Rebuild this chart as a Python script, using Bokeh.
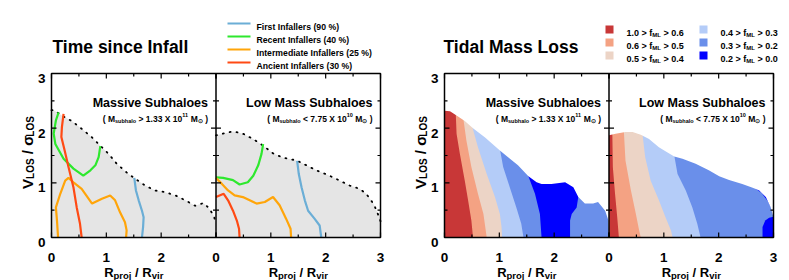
import numpy as np
from bokeh.plotting import figure
from bokeh.models import Range1d, ColumnDataSource
from bokeh.core.properties import value, field
from bokeh.embed import file_html
from bokeh.resources import INLINE

# ---------------- data ----------------
x_major = [0, 1, 2, 3]
x_minor = [0.5, 1.5, 2.5]
y_major = [0, 1, 2, 3]
y_minor = [0.5, 1.5, 2.5]
tick_labels = ["0", "1", "2", "3"]

panel_titles = ["Massive Subhaloes", "Low Mass Subhaloes"]
panel_cut_sign = [">", "<"]
panel_cut_mant = ["1.33", "7.75"]
panel_cut_exp = ["11", "10"]

infall_labels = ["First Infallers (90 %)", "Recent Infallers (40 %)",
                 "Intermediate Infallers (25 %)", "Ancient Infallers (30 %)"]
infall_colors = ["#6baed6", "#2ee82e", "#ffa50a", "#ff4a14"]

# --- Time since infall: populated-region envelope (dotted) ---
env_massive_x = [0.0, 0.04, 0.19, 0.37, 0.55, 0.74, 0.89, 1.04, 1.19, 1.37, 1.53, 1.71,
                 1.89, 2.07, 2.26, 2.44, 2.62, 2.77, 2.86, 2.96, 3.0]
env_massive_y = [2.33, 2.33, 2.23, 2.13, 1.99, 1.83, 1.68, 1.53, 1.35, 1.19, 1.07, 0.95,
                 0.86, 0.83, 0.77, 0.68, 0.58, 0.63, 0.55, 0.40, 0.25]
env_low_x = [0.0, 0.13, 0.31, 0.49, 0.68, 0.86, 1.04, 1.22, 1.47, 1.65, 1.83, 2.07,
             2.26, 2.44, 2.62, 2.74, 2.87, 2.93, 3.0]
env_low_y = [1.87, 1.90, 1.94, 1.90, 1.80, 1.68, 1.54, 1.46, 1.41, 1.32, 1.23, 1.13,
             1.04, 0.95, 0.89, 0.80, 0.62, 0.49, 0.30]

# --- contours, massive subhaloes ---
first_m_x = [1.51, 1.54, 1.59, 1.65, 1.68, 1.67, 1.65]
first_m_y = [1.09, 0.86, 0.68, 0.49, 0.37, 0.19, 0.0]
recent_m_x = [0.13, 0.08, 0.04, 0.07, 0.22, 0.40, 0.58, 0.71, 0.80, 0.86, 0.89]
recent_m_y = [2.29, 2.14, 1.90, 1.71, 1.44, 1.26, 1.13, 1.23, 1.32, 1.47, 1.67]
inter_m_x = [0.12, 0.10, 0.08, 0.16, 0.25, 0.31, 0.40, 0.55, 0.74, 0.92, 1.07, 1.16,
             1.25, 1.34, 1.37, 1.36]
inter_m_y = [0.0, 0.31, 0.55, 0.80, 1.04, 1.09, 1.01, 0.89, 0.62, 0.71, 0.77, 0.68,
             0.46, 0.28, 0.13, 0.0]
ancient_m_x = [0.22, 0.19, 0.18, 0.24, 0.31, 0.40, 0.46, 0.52, 0.55]
ancient_m_y = [2.26, 2.02, 1.84, 1.59, 1.29, 0.92, 0.55, 0.25, 0.0]

# --- contours, low mass subhaloes ---
first_l_x = [1.48, 1.51, 1.56, 1.62, 1.68, 1.80, 1.89, 1.92]
first_l_y = [1.40, 1.16, 0.92, 0.68, 0.49, 0.34, 0.22, 0.0]
recent_l_x = [0.0, 0.13, 0.31, 0.43, 0.58, 0.68, 0.77, 0.83, 0.86]
recent_l_y = [1.10, 1.09, 1.05, 0.97, 1.01, 1.13, 1.32, 1.53, 1.71]
inter_l_x = [0.0, 0.10, 0.22, 0.34, 0.49, 0.74, 0.89, 1.04, 1.16, 1.28, 1.36, 1.37]
inter_l_y = [1.09, 0.99, 0.86, 0.77, 0.74, 0.62, 0.65, 0.74, 0.59, 0.34, 0.16, 0.0]
ancient_l_x = [0.0, 0.14, 0.22, 0.31, 0.38, 0.42, 0.43]
ancient_l_y = [0.74, 0.80, 0.68, 0.49, 0.31, 0.16, 0.0]

# --- Tidal mass loss ---
fml_hi = ["1.0", "0.6", "0.5", "0.4", "0.3", "0.2"]
fml_lo = ["0.6", "0.5", "0.4", "0.3", "0.2", "0.0"]
fml_colors = ["#c83737", "#f4a283", "#ecd4c6", "#b4ccf8", "#6a8fea", "#0000ff"]

top_m_x = [0.0, 0.10, 0.22, 0.37, 0.52, 0.74, 1.01, 1.16, 1.34, 1.53, 1.68, 1.77, 1.95,
           2.20, 2.35, 2.44, 2.56, 2.71, 2.80, 2.93, 2.99, 3.0]
top_m_y = [2.32, 2.31, 2.23, 2.13, 2.00, 1.83, 1.59, 1.47, 1.32, 1.12, 1.01, 0.98, 0.98,
           1.01, 0.92, 0.74, 0.62, 0.62, 0.65, 0.49, 0.31, 0.0]
top_l_x = [0.0, 0.12, 0.30, 0.43, 0.58, 0.73, 0.91, 1.06, 1.19, 1.34, 1.58, 1.82, 2.01,
           2.19, 2.43, 2.62, 2.74, 2.86, 2.95, 3.0]
top_l_y = [1.87, 1.90, 1.93, 1.93, 1.88, 1.80, 1.65, 1.56, 1.48, 1.44, 1.35, 1.23, 1.12,
           1.05, 0.98, 0.91, 0.86, 0.74, 0.55, 0.37]

# band boundaries (bottom -> top), massive
bnd_m = [
    ([0.52, 0.49, 0.43, 0.37, 0.28, 0.22, 0.20], [0.0, 0.31, 0.68, 1.04, 1.53, 1.90, 2.40]),
    ([0.77, 0.71, 0.61, 0.49, 0.40, 0.34], [0.0, 0.43, 0.80, 1.29, 1.77, 2.20]),
    ([1.05, 1.04, 1.01, 0.92, 0.77, 0.61, 0.50], [0.0, 0.19, 0.43, 0.74, 1.16, 1.65, 2.05]),
    ([1.44, 1.40, 1.31, 1.19, 1.07, 1.01], [0.0, 0.25, 0.55, 0.92, 1.29, 1.62]),
]
island_m = [
    ([1.77, 1.74, 1.65, 1.53, 1.53, 2.44, 2.44, 2.41, 2.32, 2.29, 2.29],
     [0.0, 0.43, 0.80, 1.12, 1.60, 1.60, 0.74, 0.55, 0.43, 0.31, 0.0]),
]
# band boundaries (bottom -> top), low mass
bnd_l = [
    ([0.18, 0.15, 0.11, 0.07, 0.06], [0.0, 0.37, 0.80, 1.29, 1.95]),
    ([0.58, 0.55, 0.49, 0.40, 0.30, 0.27], [0.0, 0.13, 0.43, 0.86, 1.41, 1.96]),
    ([1.16, 1.13, 1.03, 0.91, 0.76, 0.66, 0.61], [0.0, 0.13, 0.37, 0.68, 1.04, 1.47, 1.90]),
    ([1.67, 1.61, 1.52, 1.40, 1.25, 1.19], [0.0, 0.25, 0.55, 0.86, 1.16, 1.50]),
]
island_l = [
    ([2.80, 2.80, 2.85, 2.92, 3.0, 3.0], [0.0, 0.19, 0.31, 0.36, 0.38, 0.0]),
    ([2.62, 2.78, 2.90, 2.95, 2.95, 2.62], [0.93, 0.82, 0.66, 0.56, 1.20, 1.20]),
]

# ---------------- layout constants ----------------
FONT = "Liberation Sans"
PW, PH = 789, 280                 # page size (px)
SX = 164.5 / 3.0                  # px per unit in x
SY = 164.0 / 3.0                  # px per unit in y
FRAME_BOTTOM = 237                # page y of v = 0
CHART_LEFT = {"L": 51, "R": 444}  # page x of first panel's R = 0

W = {c: 556 for c in "0123456789"}
W.update({' ': 278, '(': 333, ')': 333, '>': 584, '<': 584, '.': 278, '/': 278, '%': 889,
          'σ': 615, '⊙': 838,
          'A': 722, 'B': 722, 'C': 722, 'D': 722, 'E': 667, 'F': 611, 'G': 778, 'H': 722,
          'I': 278, 'J': 556, 'K': 722, 'L': 611, 'M': 833, 'N': 722, 'O': 778, 'P': 667,
          'Q': 778, 'R': 722, 'S': 667, 'T': 611, 'U': 722, 'V': 667, 'W': 944, 'X': 667,
          'Y': 667, 'Z': 611, 'a': 556, 'b': 611, 'c': 556, 'd': 611, 'e': 556, 'f': 333,
          'g': 611, 'h': 611, 'i': 278, 'j': 278, 'k': 556, 'l': 278, 'm': 889, 'n': 611,
          'o': 611, 'p': 611, 'q': 611, 'r': 389, 's': 556, 't': 333, 'u': 611, 'v': 556,
          'w': 778, 'x': 556, 'y': 556, 'z': 500})


def tw(s, size):
    return sum(W.get(c, 556) for c in s) * size / 1000.0


TXT = dict(x=[], y=[], text=[], size=[], angle=[])


def rich(pieces, x0, y0, align="left", vertical=False):
    """Lay out bold text pieces (text, size, baseline shift) on the page."""
    total = sum(tw(t, s) for t, s, d in pieces)
    off = {"left": 0.0, "center": -total / 2.0, "right": -total}[align]
    for t, s, d in pieces:
        core = t.strip()
        lead = len(t) - len(t.lstrip())
        trail = len(t) - lead - len(core)
        off += tw(" " * lead, s)
        if vertical:
            px, py, ang = x0 + d, y0 - off, np.pi / 2
        else:
            px, py, ang = x0 + off, y0 + d, 0.0
        TXT["x"].append(px)
        TXT["y"].append(py)
        TXT["text"].append(core)
        TXT["size"].append(f"{s}px")
        TXT["angle"].append(ang)
        off += tw(core, s) + tw(" " * trail, s)


p = figure(width=PW, height=PH, x_range=Range1d(0, PW), y_range=Range1d(PH, 0),
           output_backend="svg", toolbar_location=None, tools="", title=None,
           x_axis_location=None, y_axis_location=None,
           min_border_left=0, min_border_right=0, min_border_top=0, min_border_bottom=0,
           outline_line_color=None)
p.grid.visible = False
p.background_fill_color = "white"
p.border_fill_color = "white"

xr = {}
for ch, left in CHART_LEFT.items():
    for k in range(2):
        P = left + k * 3 * SX
        xr[f"{ch}{k + 1}"] = Range1d(-P / SX, (PW - P) / SX)
p.extra_x_ranges = xr
p.extra_y_ranges = {"v": Range1d(-(PH - FRAME_BOTTOM) / SY, FRAME_BOTTOM / SY)}
V = dict(y_range_name="v")

# ---------------- left chart: time since infall ----------------
panels_infall = [
    ("L1", env_massive_x, env_massive_y,
     [(first_m_x, first_m_y), (recent_m_x, recent_m_y), (inter_m_x, inter_m_y),
      (ancient_m_x, ancient_m_y)]),
    ("L2", env_low_x, env_low_y,
     [(first_l_x, first_l_y), (recent_l_x, recent_l_y), (inter_l_x, inter_l_y),
      (ancient_l_x, ancient_l_y)]),
]
for rng, ex, ey, lines in panels_infall:
    p.patch([0.0] + ex + [3.0], [0.0] + ey + [0.0], fill_color="#e5e5e5",
            line_color=None, x_range_name=rng, **V)
    p.line(ex, ey, line_color="black", line_width=1.8, line_dash="1 6",
           line_cap="round", x_range_name=rng, **V)
    for (lx, ly), col in zip(lines, infall_colors):
        p.line(lx, ly, line_color=col, line_width=2.2, x_range_name=rng, **V)

# ---------------- right chart: tidal mass loss ----------------
panels_fml = [("R1", top_m_x, top_m_y, bnd_m, island_m),
              ("R2", top_l_x, top_l_y, bnd_l, island_l)]
for rng, tx, ty, bnds, isls in panels_fml:
    p.patch([0, 0, 3, 3], [0, 3, 3, 0], fill_color=fml_colors[0], line_color=None,
            x_range_name=rng, **V)
    for (bx, by), col in zip(bnds, fml_colors[1:5]):
        p.patch(bx + [bx[-1], 3, 3], by + [3, 3, 0], fill_color=col, line_color=None,
                x_range_name=rng, **V)
    for ix, iy in isls:
        p.patch(ix, iy, fill_color=fml_colors[5], line_color=None, x_range_name=rng, **V)
    # blank out everything above the populated region
    p.patch(tx + [3, 0], ty + [3, 3], fill_color="white", line_color=None,
            x_range_name=rng, **V)

# ---------------- frames, ticks, tick labels ----------------
MAJ, MIN = 5.0, 3.0
tick_style = dict(line_color="black", line_width=1.2)
for ch in ("L", "R"):
    r1, r2 = ch + "1", ch + "2"
    for rng in (r1, r2):
        xs = x_major + x_minor
        lx = [MAJ] * len(x_major) + [MIN] * len(x_minor)
        p.segment(x0=xs, x1=xs, y0=[0] * len(xs), y1=[l / SY for l in lx],
                  x_range_name=rng, **V, **tick_style)
        p.segment(x0=xs, x1=xs, y0=[3] * len(xs), y1=[3 - l / SY for l in lx],
                  x_range_name=rng, **V, **tick_style)
    ys = y_major + y_minor
    ly = [MAJ] * len(y_major) + [MIN] * len(y_minor)
    # left edge
    p.segment(x0=[0] * len(ys), x1=[l / SX for l in ly], y0=ys, y1=ys,
              x_range_name=r1, **V, **tick_style)
    # divider (ticks on both sides)
    p.segment(x0=[3 - l / SX for l in ly], x1=[3 + l / SX for l in ly], y0=ys, y1=ys,
              x_range_name=r1, **V, **tick_style)
    # right edge
    p.segment(x0=[3] * len(ys), x1=[3 - l / SX for l in ly], y0=ys, y1=ys,
              x_range_name=r2, **V, **tick_style)
    # frame and divider lines
    p.quad(left=[0], right=[6], bottom=[0], top=[3], fill_color=None, line_color="black",
           line_width=1.5, x_range_name=r1, **V)
    p.segment(x0=[3], x1=[3], y0=[0], y1=[3], line_color="black", line_width=1.5,
              x_range_name=r1, **V)
    # tick labels
    lab_style = dict(text_font=value(FONT), text_font_style="bold",
                     text_font_size=value("13.5px"), text_color="black",
                     text_baseline="alphabetic")
    p.text(x=x_major[:3], y=[0] * 3, text=tick_labels[:3], text_align="center",
           y_offset=20, x_range_name=r1, **V, **lab_style)
    p.text(x=x_major, y=[0] * 4, text=tick_labels, text_align="center",
           y_offset=20, x_range_name=r2, **V, **lab_style)
    p.text(x=[0] * 4, y=y_major, text=tick_labels, text_align="right",
           x_offset=-6, y_offset=5, x_range_name=r1, **V, **lab_style)

# ---------------- texts ----------------
for ch, left in CHART_LEFT.items():
    for k in range(2):
        right_px = left + (k + 1) * 3 * SX - 8
        rich([(panel_titles[k], 12.5, 0)], right_px, 102, align="right")
        rich([("( M", 8.5, 0), ("subhalo", 5.5, 2),
              (f" {panel_cut_sign[k]} {panel_cut_mant[k]} X 10", 8.5, 0),
              (panel_cut_exp[k], 5.5, -3.5), (" M", 8.5, 0), ("⊙", 6, 2),
              (" )", 8.5, 0)], right_px, 118, align="right")
        cx = left + (k + 0.5) * 3 * SX
        rich([("R", 13, 0), ("proj", 9.5, 2.5), (" / R", 13, 0), ("vir", 9.5, 2.5)],
             cx, 272, align="center")
    rich([("V", 15, 0), ("LOS", 10, 3), (" / σ", 15, 0), ("LOS", 10, 3)],
         left - 24, 152, align="center", vertical=True)

# titles
rich([("Time since Infall", 17.5, 0)], 52, 46)
rich([("Tidal Mass Loss", 17.5, 0)], 443, 46)

# legend: time since infall
leg_rows = [23, 36, 49, 62]
p.segment(x0=[227] * 4, x1=[250] * 4, y0=leg_rows, y1=leg_rows,
          line_color=infall_colors, line_width=2.2)
for lab, r in zip(infall_labels, leg_rows):
    rich([(lab, 8.7, 0)], 256, r + 3.2)

# legend: tidal mass loss
fml_rows = [29, 42, 55]
sq_x, sq_y = [], []
for i in range(6):
    col_i, row_i = divmod(i, 3)
    r = fml_rows[row_i]
    sq_x.append([609, 703][col_i])
    sq_y.append(r)
    rich([(f"{fml_hi[i]} > f", 9, 0), ("ML", 6, 2), (f" > {fml_lo[i]}", 9, 0)],
         [626, 720][col_i], r + 3.2)
p.scatter(sq_x, sq_y, marker="square", size=8, fill_color=fml_colors, line_color=None)

p.text(x="x", y="y", text="text", angle="angle", source=ColumnDataSource(TXT),
       text_font=value(FONT), text_font_style="bold", text_font_size=field("size"),
       text_align="left", text_baseline="alphabetic", text_color="black")

open("out.html", "w").write(file_html(p, INLINE))
